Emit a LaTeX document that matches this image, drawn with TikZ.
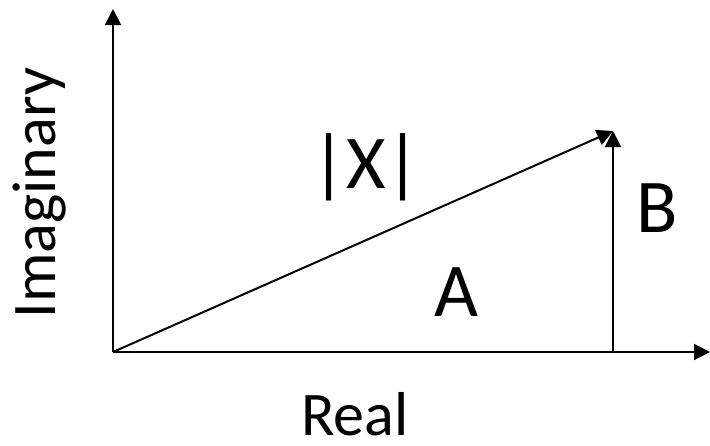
\documentclass[tikz,border=0pt]{standalone}
\usepackage{fontspec}
\setmainfont{Carlito}
\usetikzlibrary{arrows.meta}
\begin{document}
\begin{tikzpicture}[x=1pt,y=-1pt,
  ln/.style={line width=2pt},
  arr/.style={ln,-{Triangle[length=16pt,width=16pt]}},
  big/.style={font=\fontsize{76}{76}\selectfont,inner sep=0pt,anchor=base},
  lab/.style={font=\fontsize{62}{62}\selectfont,inner sep=0pt,anchor=base}]
\useasboundingbox (0,0) rectangle (710,445);
\coordinate (O) at (113,352);
\coordinate (Xend) at (710,352);
\coordinate (Yend) at (113,9);
\coordinate (P) at (613,131);
\coordinate (Q) at (613,352);
\draw[arr] (O) -- (Xend);
\draw[arr] (O) -- (Yend);
\draw[arr] (O) -- (P);
\draw[arr] (Q) -- (P);
\node[big] (mag) at (366,188) {|X|};
\node[big] (A) at (456,316) {A};
\node[big] (B) at (657,232) {B};
\node[lab] (real) at (355,435) {Real};
\node[lab,rotate=90] (imag) at (55,193) {Imaginary};
\end{tikzpicture}
\end{document}
